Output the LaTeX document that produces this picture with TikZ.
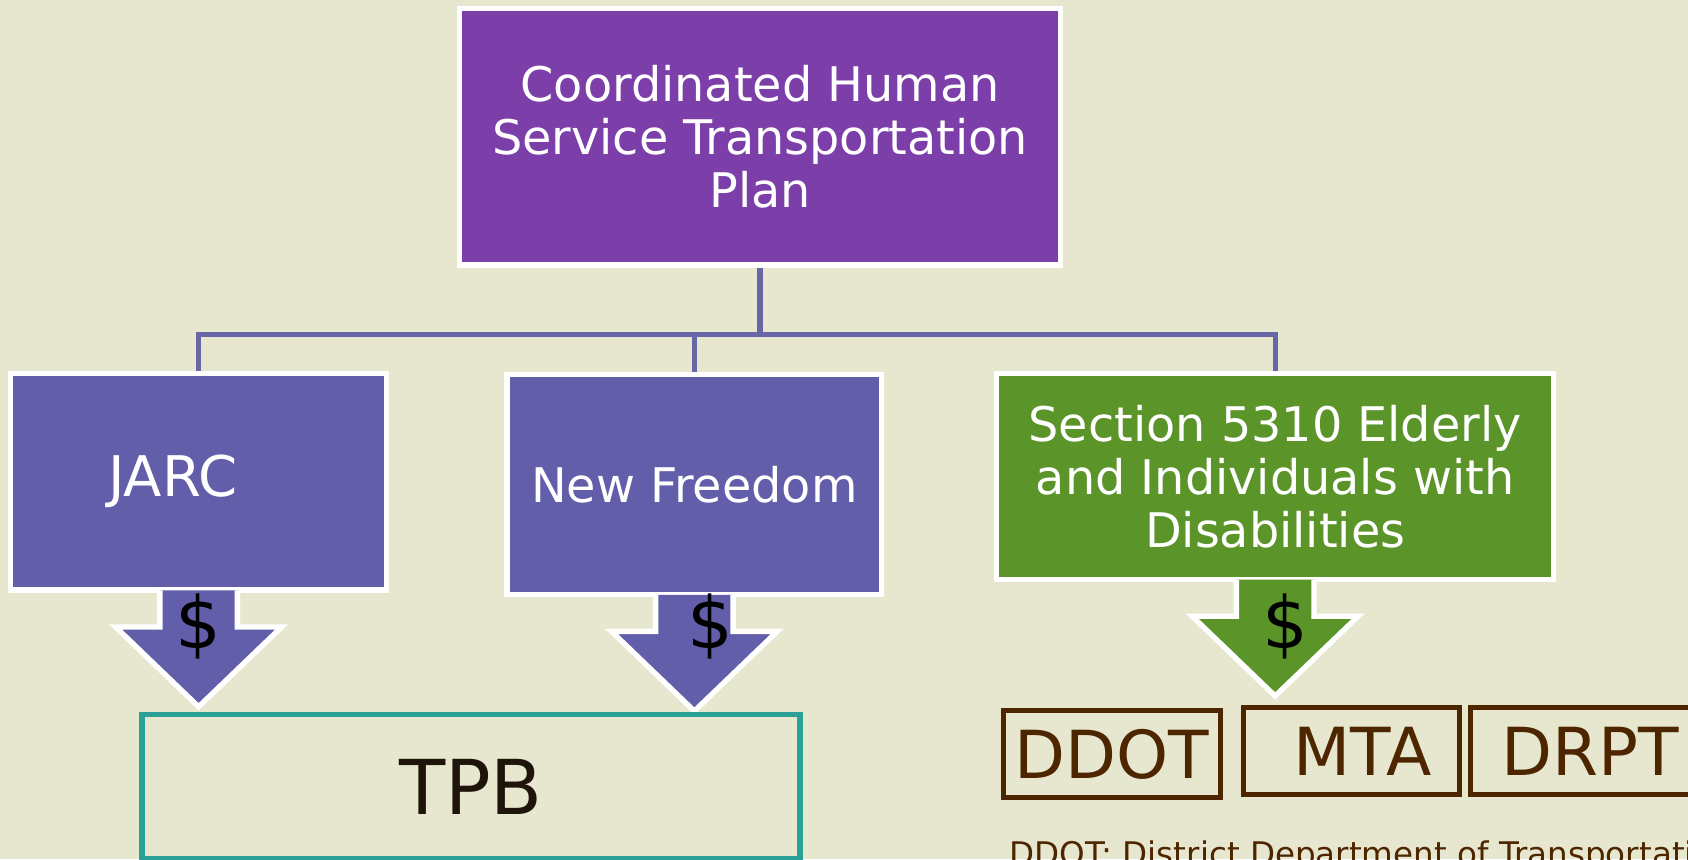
\documentclass[tikz,border=0pt]{standalone}
\usepackage{fontspec}
\setmainfont{DejaVu Sans}
\usetikzlibrary{calc}
\definecolor{bgColor}{RGB}{231,231,208}
\definecolor{planColor}{RGB}{124,62,168}
\definecolor{fundColor}{RGB}{98,94,170}
\definecolor{greenColor}{RGB}{91,148,41}
\definecolor{lineColor}{RGB}{102,102,168}
\definecolor{tealColor}{RGB}{42,160,150}
\definecolor{brownColor}{RGB}{77,38,0}
% stem and head below a funding box
\newcommand{\fundarrow}[2]{%
  \draw[arrowedge, fill=#2] ($(#1.south)+(-36,-2)$) -- ++(0,34) -- ++(-41,0)
    -- ($(#1.south)+(0,106)$) -- ($(#1.south)+(77,32)$) -- ++(-41,0) -- ++(0,-34);}

\begin{document}
\begin{tikzpicture}[x=0.01cm, y=-0.01cm,
    fundbox/.style={draw=white, line width=1.4pt, text=white, align=center, inner sep=0pt},
    arrowedge/.style={draw=white, line width=1.4pt, line join=miter},
    link/.style={lineColor, line width=1.4pt},
    agency/.style={draw=brownColor, line width=1.3pt, text=brownColor, inner sep=0pt, minimum height=0.81cm, font=\fontsize{17.5}{20}\selectfont},
    money/.style={font=\fontsize{19}{22}\selectfont, text=black}]
  \clip (0,0) rectangle (1568,798);
  \fill[bgColor] (0,0) rectangle (1568,798);

  \node[fundbox, fill=planColor, minimum width=5.58cm, minimum height=2.38cm, font=\fontsize{12.6}{14}\selectfont] (plan) at (706,127) {Coordinated Human\\Service Transportation\\Plan};

  \node[fundbox, fill=fundColor, minimum width=3.49cm, minimum height=2.01cm, font=\fontsize{14.8}{16}\selectfont] (jarc) at (184.5,447.5) {\hspace*{-0.48cm}JARC};
  \node[fundbox, fill=fundColor, minimum width=3.48cm, minimum height=2.04cm, font=\fontsize{12.6}{14}\selectfont] (newfreedom) at (645,450) {New Freedom};
  \node[fundbox, fill=greenColor, minimum width=5.17cm, minimum height=1.91cm, font=\fontsize{12.6}{14}\selectfont] (sec5310) at (1184.5,442.5) {Section 5310 Elderly\\and Individuals with\\Disabilities};

  % tree from the plan
  \coordinate (hub) at (706,311);
  \draw[link] (plan.south) -- (hub);
  \draw[link] (hub) -| (jarc.north);
  \draw[link] (hub) -| (newfreedom.north);
  \draw[link] (hub) -| (sec5310.north);

  % funding arrows
  \fundarrow{jarc}{fundColor}
  \fundarrow{newfreedom}{fundColor}
  \fundarrow{sec5310}{greenColor}
  \node[money] (jarcmoney) at (184,582) {\$};
  \node[money] (nfmoney) at (660,582) {\$};
  \node[money] (secmoney) at (1194,582) {\$};

  \node[draw=tealColor, line width=1.4pt, minimum width=6.11cm, minimum height=1.34cm, font=\fontsize{20}{24}\selectfont, text={rgb,255:red,30;green,20;blue,10}] (tpb) at (437.5,731) {TPB};

  \node[agency, minimum width=2.02cm] (ddot) at (1033,700.5) {DDOT};
  \node[agency, minimum width=2.01cm] (mta) at (1255.5,697.5) {\hspace*{0.2cm}MTA};
  \node[agency, minimum width=2.22cm] (drpt) at (1477,697.5) {DRPT};

  \node[anchor=base west, inner sep=0pt, text=brownColor, font=\fontsize{8.6}{10}\selectfont] (note) at (937,804) {DDOT: District Department of Transportation};
\end{tikzpicture}
\end{document}
